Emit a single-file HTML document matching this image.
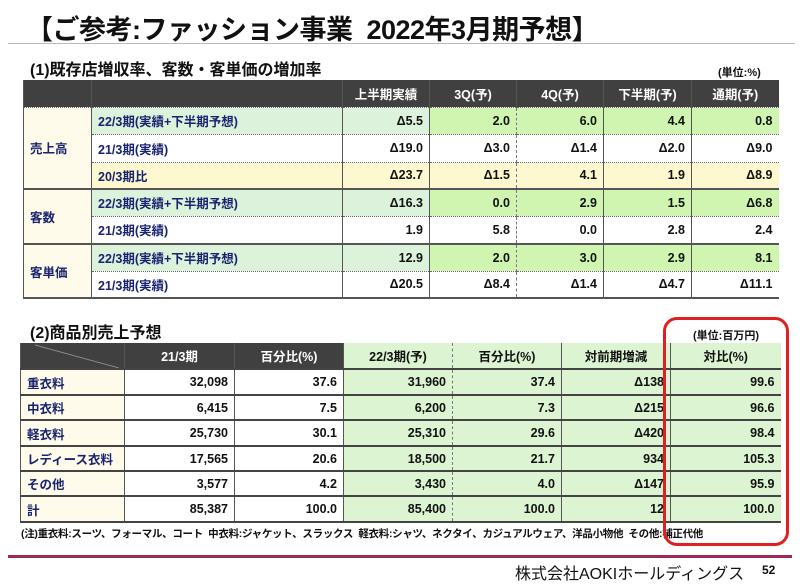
<!DOCTYPE html><html><head><meta charset="utf-8"><style>
*{margin:0;padding:0;box-sizing:border-box}
body{width:800px;height:584px;background:#fff;position:relative;overflow:hidden;font-family:"Liberation Sans","Noto Sans CJK JP",sans-serif;font-weight:bold;color:#111}
.a{position:absolute;white-space:nowrap}
table{position:absolute;border-collapse:collapse;table-layout:fixed;font-size:12.5px}
td{padding:0 6px;overflow:hidden;white-space:nowrap}
.h td{background:#404040;color:#fff;text-align:center}
.n{color:#1a2370}
.r{text-align:right}
.lg{background:#dcf2da}
.bg{background:#cff5b0}
.y{background:#fdf8cf}
.c{background:#fffbea}
#t1 td{border-bottom:1px dotted #666;border-left:1px solid #555}
#t1 td.dd{border-left:1px dashed #777}
#t1 .grp td{border-bottom:2px solid #555}
#t2 td{border-bottom:2px solid #444;border-left:1px solid #555}
#t2 td.dd{border-left:1px dashed #777}
.g2{background:#dcf4d2}
</style></head><body>
<div class="a" style="left:26px;top:8px;font-size:27px;letter-spacing:-0.5px">【ご参考:ファッション事業&nbsp; 2022年3月期予想】</div>
<div class="a" style="left:8px;top:43px;width:787px;height:1px;background:#bbb"></div>
<div class="a" style="left:30px;top:56px;font-size:16px">(1)既存店増収率、客数・客単価の増加率</div>
<div class="a" style="left:718px;top:64px;font-size:11px">(単位:%)</div>
<table id="t1" style="left:23px;top:80px;width:755px">
<colgroup><col style="width:68px"><col style="width:251px"><col style="width:87px"><col style="width:87px"><col style="width:87px"><col style="width:88px"><col style="width:87px"></colgroup>
<tr class="h" style="height:27px"><td></td><td></td><td>上半期実績</td><td>3Q(予)</td><td>4Q(予)</td><td>下半期(予)</td><td>通期(予)</td></tr>
<tr style="height:27px"><td rowspan="3" class="c n" style="border-bottom:2px solid #555">売上高</td><td class="lg n">22/3期(実績+下半期予想)</td><td class="lg r">Δ5.5</td><td class="bg r">2.0</td><td class="bg r dd">6.0</td><td class="bg r">4.4</td><td class="bg r">0.8</td></tr>
<tr style="height:28px"><td class="n">21/3期(実績)</td><td class="r">Δ19.0</td><td class="r">Δ3.0</td><td class="r dd">Δ1.4</td><td class="r">Δ2.0</td><td class="r">Δ9.0</td></tr>
<tr class="grp" style="height:27px"><td class="y n">20/3期比</td><td class="y r">Δ23.7</td><td class="y r">Δ1.5</td><td class="y r dd">4.1</td><td class="y r">1.9</td><td class="y r">Δ8.9</td></tr>
<tr style="height:27px"><td rowspan="2" class="c n" style="border-bottom:2px solid #555">客数</td><td class="lg n">22/3期(実績+下半期予想)</td><td class="lg r">Δ16.3</td><td class="bg r">0.0</td><td class="bg r dd">2.9</td><td class="bg r">1.5</td><td class="bg r">Δ6.8</td></tr>
<tr class="grp" style="height:28px"><td class="n">21/3期(実績)</td><td class="r">1.9</td><td class="r">5.8</td><td class="r dd">0.0</td><td class="r">2.8</td><td class="r">2.4</td></tr>
<tr style="height:27px"><td rowspan="2" class="c n" style="border-bottom:2px solid #555">客単価</td><td class="lg n">22/3期(実績+下半期予想)</td><td class="lg r">12.9</td><td class="bg r">2.0</td><td class="bg r dd">3.0</td><td class="bg r">2.9</td><td class="bg r">8.1</td></tr>
<tr class="grp" style="height:27px"><td class="n">21/3期(実績)</td><td class="r">Δ20.5</td><td class="r">Δ8.4</td><td class="r dd">Δ1.4</td><td class="r">Δ4.7</td><td class="r">Δ11.1</td></tr>
</table>
<div class="a" style="left:30px;top:319px;font-size:16px">(2)商品別売上予想</div>
<div class="a" style="left:693px;top:327px;font-size:11px">(単位:百万円)</div>
<table id="t2" style="left:20px;top:343px;width:760px">
<colgroup><col style="width:104px"><col style="width:110px"><col style="width:109px"><col style="width:109px"><col style="width:109px"><col style="width:109px"><col style="width:110px"></colgroup>
<tr style="height:25px;text-align:center"><td style="background:#404040;border-bottom:2px solid #444"><svg width="92" height="25" style="display:block"><line x1="8" y1="2" x2="92" y2="25" stroke="#888" stroke-width="1"/></svg></td><td style="background:#404040;color:#fff">21/3期</td><td style="background:#404040;color:#fff">百分比(%)</td><td class="g2">22/3期(予)</td><td class="g2 dd">百分比(%)</td><td class="g2">対前期増減</td><td class="g2">対比(%)</td></tr>
<tr style="height:26px"><td class="c n">重衣料</td><td class="r">32,098</td><td class="r">37.6</td><td class="g2 r">31,960</td><td class="g2 r dd">37.4</td><td class="g2 r">Δ138</td><td class="g2 r">99.6</td></tr>
<tr style="height:25px"><td class="c n">中衣料</td><td class="r">6,415</td><td class="r">7.5</td><td class="g2 r">6,200</td><td class="g2 r dd">7.3</td><td class="g2 r">Δ215</td><td class="g2 r">96.6</td></tr>
<tr style="height:26px"><td class="c n">軽衣料</td><td class="r">25,730</td><td class="r">30.1</td><td class="g2 r">25,310</td><td class="g2 r dd">29.6</td><td class="g2 r">Δ420</td><td class="g2 r">98.4</td></tr>
<tr style="height:25px"><td class="c n">レディース衣料</td><td class="r">17,565</td><td class="r">20.6</td><td class="g2 r">18,500</td><td class="g2 r dd">21.7</td><td class="g2 r">934</td><td class="g2 r">105.3</td></tr>
<tr style="height:25px"><td class="c n">その他</td><td class="r">3,577</td><td class="r">4.2</td><td class="g2 r">3,430</td><td class="g2 r dd">4.0</td><td class="g2 r">Δ147</td><td class="g2 r">95.9</td></tr>
<tr style="height:26px"><td class="c n">計</td><td class="r">85,387</td><td class="r">100.0</td><td class="g2 r">85,400</td><td class="g2 r dd">100.0</td><td class="g2 r">12</td><td class="g2 r">100.0</td></tr>
</table>
<div class="a" style="left:21px;top:526px;font-size:10.5px;letter-spacing:-0.3px">(注)重衣料:スーツ、フォーマル、コート&nbsp; 中衣料:ジャケット、スラックス&nbsp; 軽衣料:シャツ、ネクタイ、カジュアルウェア、洋品小物他&nbsp; その他:補正代他</div>
<div class="a" style="left:663px;top:317px;width:126px;height:229px;border:3px solid #e02020;border-radius:14px"></div>
<div class="a" style="left:8px;top:555px;width:784px;height:3px;background:#9c2a55"></div>
<div class="a" style="left:515px;top:560px;font-size:16px;font-weight:normal">株式会社AOKIホールディングス</div>
<div class="a" style="left:762px;top:563px;font-size:12px">52</div>
</body></html>
